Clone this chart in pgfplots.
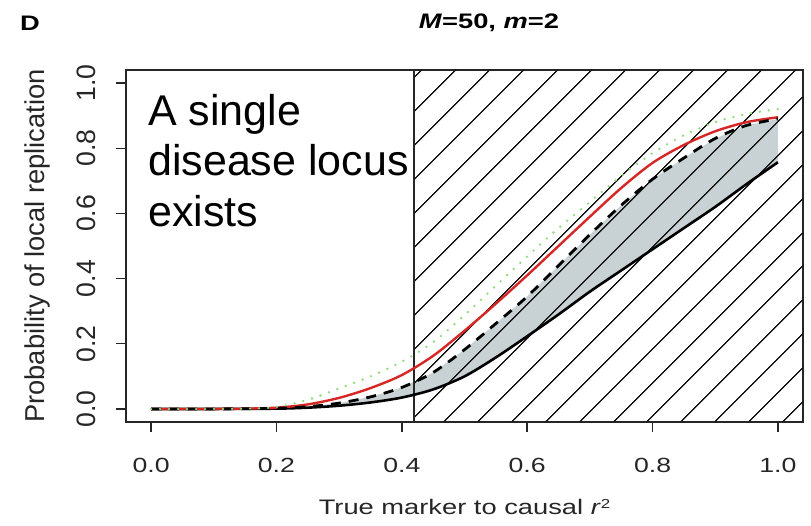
\documentclass[border=0pt]{standalone}
\usepackage{pgfplots}
\pgfplotsset{compat=1.18}
\usepackage{pgfplotstable}
\usepackage{graphicx}
\usepgfplotslibrary{fillbetween}
\usetikzlibrary{patterns.meta}
\usepackage{fontspec}
\setmainfont{Liberation Sans}
\newfontfamily\rfont[FakeStretch=1.3]{Liberation Sans}
\definecolor{redc}{RGB}{214,38,38}
\definecolor{greenc}{RGB}{140,220,120}
\definecolor{greyc}{RGB}{200,210,212}
\newcommand\vs[1]{\scalebox{1}[1.3]{#1}}

\pgfplotstableread{
x y
0 0
0.1 0
0.15 0.001
0.2 0.004
0.25 0.014
0.3 0.034
0.35 0.064
0.4 0.104
0.45 0.163
0.5 0.24
0.55 0.323
0.6 0.41
0.65 0.50
0.7 0.59
0.75 0.678
0.8 0.755
0.85 0.81
0.9 0.852
0.95 0.88
1.0 0.895
}\redtab

\pgfplotstableread{
x y
0 0
0.1 0
0.15 0.001
0.2 0.006
0.25 0.028
0.3 0.063
0.35 0.10
0.4 0.145
0.45 0.205
0.5 0.288
0.55 0.378
0.6 0.468
0.65 0.555
0.7 0.635
0.75 0.715
0.8 0.785
0.85 0.84
0.9 0.88
0.95 0.905
1.0 0.92
}\greentab

\pgfplotstableread{
x y
0 0
0.1 0
0.2 0.002
0.25 0.007
0.3 0.018
0.35 0.037
0.4 0.066
0.45 0.112
0.5 0.182
0.55 0.262
0.6 0.345
0.65 0.44
0.7 0.535
0.75 0.625
0.8 0.705
0.85 0.77
0.9 0.83
0.95 0.87
1.0 0.89
}\dashtab

\pgfplotstableread{
x y
0 0
0.1 0
0.2 0.001
0.25 0.004
0.3 0.01
0.35 0.02
0.4 0.035
0.45 0.06
0.5 0.10
0.55 0.158
0.6 0.223
0.65 0.29
0.7 0.36
0.75 0.425
0.8 0.49
0.85 0.555
0.9 0.62
0.95 0.69
1.0 0.757
}\solidtab

\begin{document}
\begin{tikzpicture}[x=1bp,y=1bp]
\begin{axis}[
  at={(0,0)}, anchor=south west,
  scale only axis,
  width=677bp, height=352bp,
  xmin=-0.04, xmax=1.04, ymin=-0.04, ymax=1.04,
  axis line style={line width=1.6bp, black!85},
  tick align=outside,
  major tick length=10bp,
  tick style={line width=1.4bp, black!85},
  xtick={0,0.2,0.4,0.6,0.8,1.0},
  ytick={0,0.2,0.4,0.6,0.8,1.0},
  xticklabels={0.0,0.2,0.4,0.6,0.8,1.0},
  yticklabels={\vs{0.0},\vs{0.2},\vs{0.4},\vs{0.6},\vs{0.8},\vs{1.0}},
  xtick pos=bottom, ytick pos=left,
  xticklabel shift=23bp,
  yticklabel shift=17bp,
  xticklabel style={font=\rfont\fontsize{20.5bp}{24bp}\selectfont, text=black!85},
  yticklabel style={font=\rfont\fontsize{20.5bp}{24bp}\selectfont, rotate=90, text=black!85},
  every axis x label/.style={at={(axis description cs:0.5,-0.2415)}, anchor=center, font=\rfont\fontsize{21bp}{25bp}\selectfont, text=black!85},
  every axis y label/.style={at={(axis description cs:-0.1315,0.5)}, anchor=center, rotate=90, font=\rfont\fontsize{21bp}{25bp}\selectfont, text=black!85},
  xlabel={True marker to causal \textit{r}\raisebox{0.6ex}{\fontsize{13bp}{15bp}\selectfont 2}},
  ylabel={\vs{Probability of local replication}},
]
\addplot[name path=dashp, draw=none, forget plot] table[x=x,y=y] {\dashtab};
\addplot[name path=solidp, draw=none, forget plot] table[x=x,y=y] {\solidtab};
\addplot[fill=greyc, draw=none] fill between[of=dashp and solidp, soft clip={domain=0.25:1}];
\addplot[draw=none, pattern={Lines[angle=45,distance=24bp,line width=1.4bp]}, pattern color=black!90] coordinates {(0.42,-0.05) (1.05,-0.05) (1.05,1.05) (0.42,1.05)} -- cycle;
\addplot[black!85, line width=2bp] coordinates {(0.42,-0.04) (0.42,1.04)};
\addplot[black, line width=2.6bp, smooth] table[x=x,y=y] {\solidtab};
\addplot[redc, line width=2.4bp, smooth] table[x=x,y=y] {\redtab};
\addplot[black, line width=2.8bp, smooth, dash pattern=on 10bp off 8bp] table[x=x,y=y] {\dashtab};
\addplot[greenc, line width=2.6bp, smooth, line cap=round, dash pattern=on 0bp off 9bp] table[x=x,y=y] {\greentab};
\end{axis}
\node[anchor=base west, inner sep=0, font=\fontsize{43bp}{50bp}\selectfont] at (22bp,296bp) {A single};
\node[anchor=base west, inner sep=0, font=\fontsize{43bp}{50bp}\selectfont] at (22bp,246bp) {disease locus};
\node[anchor=base west, inner sep=0, font=\fontsize{43bp}{50bp}\selectfont] at (22bp,195bp) {exists};
\node[anchor=center, inner sep=0, font=\rfont\bfseries\fontsize{21bp}{25bp}\selectfont] at (363bp,399bp) {\textit{M}=50, \textit{m}=2};
\node[anchor=center, inner sep=0, font=\rfont\bfseries\fontsize{21bp}{25bp}\selectfont] at (-96bp,399bp) {D};
\path[use as bounding box] (-126bp,-104bp) rectangle (685bp,422bp);
\end{tikzpicture}
\end{document}
